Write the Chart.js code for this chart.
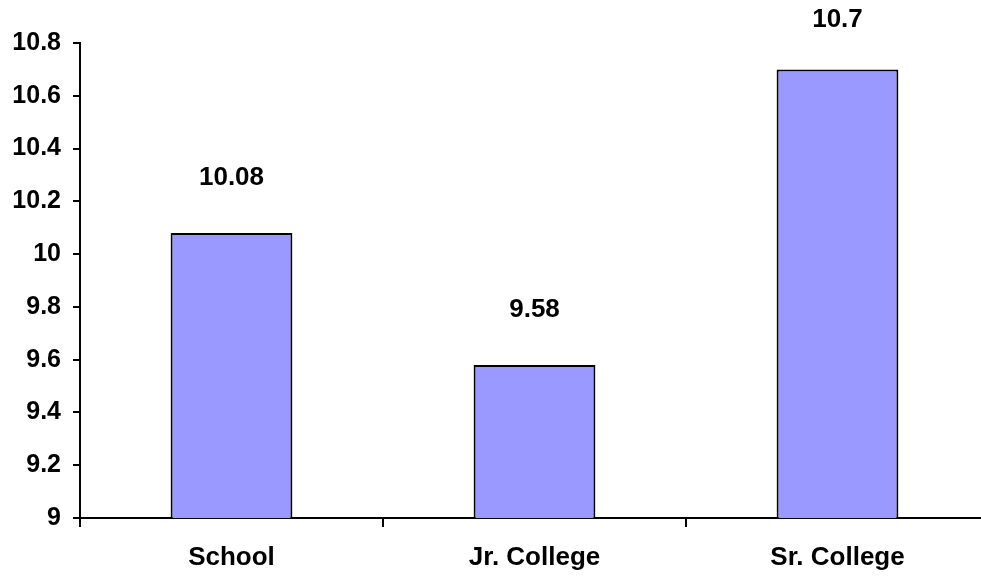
<!DOCTYPE html>
<html>
<head>
<meta charset="utf-8">
<script src="https://cdn.jsdelivr.net/npm/chart.js@4.4.0/dist/chart.umd.min.js"></script>
<style>
    body { margin: 0; background: #fff; overflow: hidden; }
    #wrap { width: 981px; height: 577px; overflow: hidden; }
</style>
</head>
<body>
<!-- canvas is a bit wider than the window: the plot runs past the right edge like the original -->
<div id="wrap"><canvas id="myChart" width="990" height="577"></canvas></div>
<script>
// DATA
const categories = ['School', 'Jr. College', 'Sr. College'];
const values = [10.08, 9.58, 10.7];
const valueLabels = ['10.08', '9.58', '10.7'];
const yMin = 9;
const yMax = 10.8;
const yStep = 0.2;

// LABELS ABOVE THE BARS
const valueLabelPlugin = {
    id: 'valueLabels',
    afterDatasetsDraw(chart) {
        const ctx = chart.ctx;
        const meta = chart.getDatasetMeta(0);
        ctx.save();
        ctx.font = "bold 26px 'Liberation Sans', Arial, sans-serif";
        ctx.fillStyle = '#000';
        ctx.textAlign = 'center';
        ctx.textBaseline = 'middle';
        meta.data.forEach((bar, i) => {
            ctx.fillText(valueLabels[i], bar.x, Math.max(bar.y - 55, 20));
        });
        ctx.restore();
    }
};

// CREATING CHART
const ctx = document.getElementById('myChart').getContext('2d');
Chart.defaults.font.family = "'Liberation Sans', Arial, sans-serif";
Chart.defaults.font.weight = 'bold';
Chart.defaults.font.size = 25;
Chart.defaults.color = '#000';

const myChart = new Chart(ctx, {
    type: 'bar',
    data: {
        labels: categories,
        datasets: [{
            data: values,
            backgroundColor: '#9999FF',
            borderColor: '#000',
            borderWidth: 2,
            borderSkipped: false,
            categoryPercentage: 1,
            barPercentage: 0.402
        }]
    },
    options: {
        responsive: false,
        animation: false,
        layout: {
            padding: { top: 43, right: 1, left: 0, bottom: 0 }
        },
        plugins: {
            legend: { display: false },
            tooltip: { enabled: false }
        },
        scales: {
            x: {
                grid: {
                    drawOnChartArea: false,
                    drawTicks: true,
                    tickLength: 9,
                    color: '#000',
                    lineWidth: 2
                },
                border: { display: true, color: '#000', width: 2 },
                ticks: { padding: 15, font: { size: 26, weight: 'bold' } },
                afterFit(axis) { axis.height = 59; }
            },
            y: {
                min: yMin,
                max: yMax,
                grid: {
                    drawOnChartArea: false,
                    drawTicks: true,
                    tickLength: 7,
                    color: '#000',
                    lineWidth: 2
                },
                border: { display: true, color: '#000', width: 2 },
                ticks: {
                    stepSize: yStep,
                    padding: 12,
                    font: { size: 25, weight: 'bold' },
                    callback: (v) => String(Number(v.toFixed(1)))
                },
                afterFit(axis) { axis.width = 80; }
            }
        }
    },
    plugins: [valueLabelPlugin]
});
</script>
</body>
</html>
